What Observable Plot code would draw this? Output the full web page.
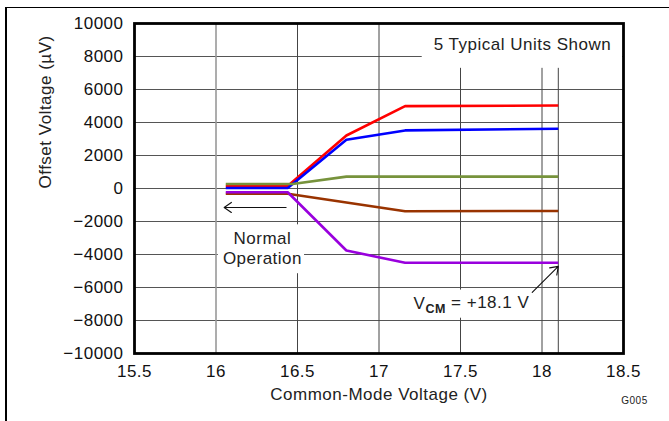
<!DOCTYPE html>
<html><head><meta charset="utf-8">
<script src="https://cdn.jsdelivr.net/npm/d3@7"></script>
<script src="https://cdn.jsdelivr.net/npm/@observablehq/plot@0.6"></script>
<style>
body{margin:0;background:#fff;}
#wrap{position:relative;width:669px;height:421px;overflow:hidden;background:#fff;}
#wrap svg{position:absolute;left:0;top:0;}
#border{position:absolute;left:5px;top:7px;width:700px;height:430px;border-top:1.5px solid #000;border-left:2px solid #000;pointer-events:none;}
</style></head><body><div id="wrap"></div>
<script>
// ---- data ----
const units = ["Unit 1", "Unit 2", "Unit 3", "Unit 4", "Unit 5"];
const unitColors = ["#ff0000", "#0000ff", "#77933c", "#993300", "#9900dd"];

const vcmRed    = [16.06, 16.44, 16.8, 17.16, 18.1];
const vosRed    = [150, 150, 3210, 4990, 5030];
const vcmBlue   = [16.06, 16.44, 16.8, 17.16, 18.1];
const vosBlue   = [30, 30, 2950, 3520, 3620];
const vcmGreen  = [16.06, 16.47, 16.8, 18.1];
const vosGreen  = [270, 270, 720, 720];
const vcmBrown  = [16.06, 16.44, 17.16, 18.1];
const vosBrown  = [-320, -320, -1375, -1360];
const vcmPurple = [16.06, 16.44, 16.8, 17.16, 18.1];
const vosPurple = [-230, -230, -3760, -4500, -4500];

const xTicks = [15.5, 16, 16.5, 17, 17.5, 18, 18.5];
const yTicks = [-10000, -8000, -6000, -4000, -2000, 0, 2000, 4000, 6000, 8000, 10000];
const xGrid = [16.5, 17, 17.5, 18, 18.1];
const xGridLight = [16];

const centeredNotes = [
  {text: "5 Typical Units Shown", x: 17.88, y: 8790},
  {text: "Normal\nOperation", x: 16.285, y: -3600}
];
const startNotes = [
  {text: "VCM = +18.1 V", x: 17.212, y: -6970}
];
const arrows = [
  {x1: 16.43, y1: -1150, x2: 16.05, y2: -1150},
  {x1: 17.94, y1: -6300, x2: 18.1, y2: -4720}
];

// ---- table ----
const series = [
  [units[0], vcmRed, vosRed],
  [units[1], vcmBlue, vosBlue],
  [units[2], vcmGreen, vosGreen],
  [units[3], vcmBrown, vosBrown],
  [units[4], vcmPurple, vosPurple]
];
const drawOrder = [3, 4, 0, 1, 2];
const rows = drawOrder.flatMap(i => series[i][1].map((v, j) => ({unit: series[i][0], vcm: v, vos: series[i][2][j]})));

const chart = Plot.plot({
  width: 669,
  height: 421,
  marginLeft: 134,
  marginRight: 46,
  marginTop: 23,
  marginBottom: 68,
  style: {fontFamily: "Liberation Sans, Arial, sans-serif", fontSize: "17px", letterSpacing: "0.5px", background: "transparent", color: "#111"},
  x: {domain: [15.5, 18.5]},
  y: {domain: [-10000, 10000]},
  color: {domain: units, range: unitColors},
  marks: [
    Plot.ruleY(yTicks, {stroke: "#555", strokeWidth: 1}),
    Plot.ruleX(xGridLight, {stroke: "#999", strokeWidth: 1.6}),
    Plot.ruleX(xGrid, {stroke: "#444", strokeWidth: 1}),
    Plot.text(centeredNotes, {x: "x", y: "y", text: "text", lineHeight: 1.17, fontSize: 17, fill: "#222", textAnchor: "middle"}),
    Plot.text(startNotes, {x: "x", y: "y", text: "text", fontSize: 17, fill: "#222", textAnchor: "start"}),
    Plot.line(rows, {x: "vcm", y: "vos", z: "unit", stroke: "unit", strokeWidth: 2.6, strokeLinejoin: "miter", strokeLinecap: "butt"}),
    Plot.arrow(arrows, {x1: "x1", y1: "y1", x2: "x2", y2: "y2", stroke: "#111", strokeWidth: 1.1, headLength: 12, headAngle: 70}),
    Plot.axisY(yTicks, {tickSize: 0, tickPadding: 11, tickFormat: d3.format("d"), label: null}),
    Plot.axisX(xTicks, {tickSize: 0, tickPadding: 11, tickFormat: d => String(d), label: null}),
    Plot.text(["Common-Mode Voltage (V)"], {frameAnchor: "bottom", dy: 46, fontSize: 17, fill: "#222"}),
    Plot.text(["Offset Voltage (\u00b5V)"], {frameAnchor: "left", dx: -89, rotate: -90, fontSize: 17, fill: "#222"}),
    Plot.text(["G005"], {frameAnchor: "bottom-right", textAnchor: "middle", dx: 11, dy: 50, fontSize: 10, fill: "#222", letterSpacing: "0px"}),
    Plot.frame({stroke: "#000", strokeWidth: 2.8})
  ]
});

const wrap = document.getElementById("wrap");
wrap.appendChild(chart);
const b = document.createElement("div");
b.id = "border";
wrap.appendChild(b);

// subscript for VCM and white boxes behind annotations
const pads = {
  "5 Typical Units Shown": [12, 30, 11, 14],
  "NormalOperation": [5, 5, 2, 5],
  "VCM = +18.1 V": [4, 3, 4, 2]
};
d3.select(chart).selectAll("text").each(function() {
  const key = this.textContent;
  if (!(key in pads)) return;
  const t = d3.select(this);
  if (key === "VCM = +18.1 V") {
    t.text(null);
    t.append("tspan").text("V");
    t.append("tspan").attr("dy", "0.3em").attr("font-size", 12.5).attr("font-weight", "bold").text("CM");
    t.append("tspan").attr("dy", "-0.3em").text(" = +18.1 V");
  }
  const bb = this.getBBox();
  const p = pads[key];
  const r = d3.select(this.parentNode).insert("rect", () => this)
    .attr("x", bb.x - p[0]).attr("y", bb.y - p[1])
    .attr("width", bb.width + p[0] + p[2]).attr("height", bb.height + p[1] + p[3])
    .attr("fill", "#fff");
  const tr = this.getAttribute("transform");
  if (tr) r.attr("transform", tr);
});
</script>
</body></html>
